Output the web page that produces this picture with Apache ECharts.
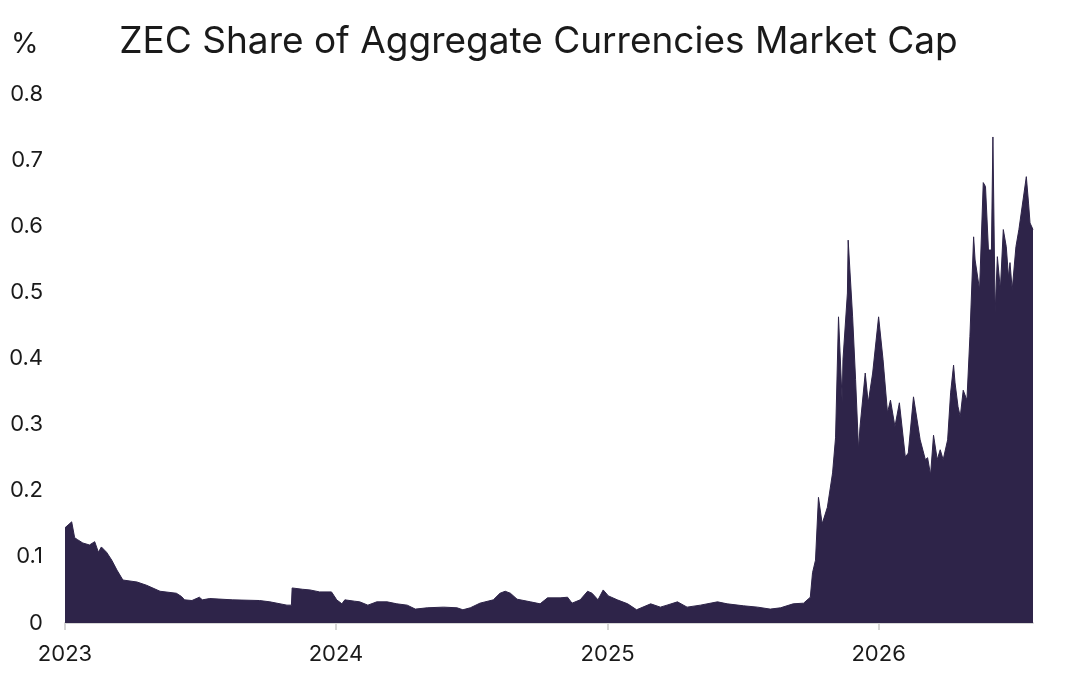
<!DOCTYPE html>
<html>
<head>
<meta charset="utf-8">
<script src="https://cdn.jsdelivr.net/npm/echarts@6/dist/echarts.min.js"></script>
<style>
  html, body { margin: 0; padding: 0; background: #fff; }
  #chart-container { width: 1077px; height: 675px; }
</style>
</head>
<body>
<div id="chart-container"></div>
<script>
// ZEC share of aggregate currencies market cap, %
const dates = [
    '2023-01-01', '2023-01-05', '2023-01-10', '2023-01-14', '2023-01-18', '2023-01-25', '2023-02-03', '2023-02-10',
    '2023-02-15', '2023-02-19', '2023-02-26', '2023-03-05', '2023-03-12', '2023-03-20', '2023-04-08', '2023-04-21',
    '2023-05-09', '2023-05-31', '2023-06-07', '2023-06-11', '2023-06-21', '2023-07-01', '2023-07-05', '2023-07-15',
    '2023-08-15', '2023-09-20', '2023-10-04', '2023-10-27', '2023-11-02', '2023-11-03', '2023-11-17', '2023-11-27',
    '2023-12-10', '2023-12-26', '2023-12-29', '2024-01-02', '2024-01-09', '2024-01-13', '2024-01-26', '2024-02-02',
    '2024-02-13', '2024-02-25', '2024-03-10', '2024-03-23', '2024-04-06', '2024-04-17', '2024-05-03', '2024-05-25',
    '2024-06-12', '2024-06-20', '2024-06-30', '2024-07-13', '2024-07-31', '2024-08-09', '2024-08-16', '2024-08-23',
    '2024-09-01', '2024-09-19', '2024-10-02', '2024-10-12', '2024-10-29', '2024-11-08', '2024-11-14', '2024-11-25',
    '2024-12-05', '2024-12-11', '2024-12-19', '2024-12-26', '2025-01-02', '2025-01-14', '2025-01-28', '2025-02-09',
    '2025-02-28', '2025-03-13', '2025-03-22', '2025-04-05', '2025-04-18', '2025-05-06', '2025-05-29', '2025-06-11',
    '2025-07-03', '2025-07-22', '2025-08-08', '2025-08-22', '2025-09-08', '2025-09-22', '2025-09-28', '2025-10-01',
    '2025-10-04', '2025-10-08', '2025-10-12', '2025-10-17', '2025-10-24', '2025-10-31', '2025-11-04', '2025-11-08',
    '2025-11-13', '2025-11-14', '2025-11-20', '2025-11-21', '2025-11-27', '2025-12-01', '2025-12-05', '2025-12-07',
    '2025-12-14', '2025-12-18', '2025-12-24', '2026-01-01', '2026-01-07', '2026-01-13', '2026-01-17', '2026-01-23',
    '2026-01-29', '2026-02-06', '2026-02-10', '2026-02-17', '2026-02-26', '2026-03-05', '2026-03-08', '2026-03-12',
    '2026-03-16', '2026-03-21', '2026-03-25', '2026-03-29', '2026-04-04', '2026-04-08', '2026-04-12', '2026-04-14',
    '2026-04-18', '2026-04-21', '2026-04-25', '2026-04-30', '2026-05-04', '2026-05-09', '2026-05-11', '2026-05-17',
    '2026-05-22', '2026-05-25', '2026-05-29', '2026-06-02', '2026-06-04', '2026-06-07', '2026-06-10', '2026-06-14',
    '2026-06-18', '2026-06-22', '2026-06-25', '2026-06-27', '2026-06-30', '2026-07-05', '2026-07-09', '2026-07-19',
    '2026-07-22', '2026-07-24', '2026-07-28'
];
const shares = [
    0.144, 0.148, 0.153, 0.129, 0.126, 0.121, 0.118, 0.123,
    0.107, 0.115, 0.107, 0.095, 0.080, 0.065, 0.062, 0.057,
    0.048, 0.045, 0.040, 0.035, 0.034, 0.039, 0.035, 0.037,
    0.035, 0.034, 0.032, 0.027, 0.027, 0.053, 0.051, 0.050,
    0.047, 0.047, 0.042, 0.035, 0.029, 0.035, 0.033, 0.032,
    0.027, 0.032, 0.032, 0.029, 0.027, 0.021, 0.023, 0.024,
    0.023, 0.020, 0.023, 0.030, 0.035, 0.045, 0.048, 0.045,
    0.036, 0.032, 0.029, 0.038, 0.038, 0.039, 0.030, 0.035,
    0.048, 0.045, 0.035, 0.050, 0.041, 0.035, 0.029, 0.020,
    0.029, 0.024, 0.027, 0.032, 0.024, 0.027, 0.032, 0.029,
    0.026, 0.024, 0.021, 0.023, 0.029, 0.030, 0.036, 0.039,
    0.076, 0.095, 0.190, 0.150, 0.175, 0.227, 0.280, 0.463,
    0.333, 0.398, 0.499, 0.579, 0.463, 0.368, 0.262, 0.297,
    0.378, 0.333, 0.378, 0.463, 0.398, 0.318, 0.337, 0.297,
    0.333, 0.251, 0.257, 0.342, 0.277, 0.247, 0.250, 0.224,
    0.284, 0.247, 0.262, 0.247, 0.277, 0.348, 0.390, 0.363,
    0.327, 0.312, 0.352, 0.337, 0.433, 0.584, 0.549, 0.504,
    0.666, 0.660, 0.564, 0.564, 0.735, 0.469, 0.554, 0.504,
    0.595, 0.569, 0.523, 0.545, 0.504, 0.569, 0.595, 0.675,
    0.635, 0.605, 0.595
];
const yearTicks = ['2023-01-01', '2024-01-01', '2025-01-01', '2026-01-01'];

const fontFamily = 'Inter, "Noto Sans", sans-serif';
const areaColor = '#2e2449';
const ts = d => Date.parse(d + 'T00:00:00Z');

const myChart = echarts.init(document.getElementById('chart-container'));

const option = {
    backgroundColor: '#ffffff',
    animation: false,
    title: {
        text: 'ZEC Share of Aggregate Currencies Market Cap',
        left: 'center',
        top: 18,
        textStyle: { fontFamily, fontSize: 37, fontWeight: 'normal', color: '#1a1a1a' },
    },
    graphic: [{
        type: 'text',
        left: 11,
        top: 31,
        style: { text: '%', font: '28px ' + fontFamily, fill: '#1a1a1a' },
    }],
    grid: { left: 65, right: 44, top: 94, bottom: 52 },
    xAxis: {
        type: 'value',
        min: ts('2023-01-01'),
        max: ts('2026-07-28'),
        axisLine: { show: true, onZero: false, lineStyle: { color: '#d6d6d6', width: 2 } },
        axisTick: {
            show: true,
            customValues: yearTicks.map(ts),
            length: 7,
            lineStyle: { color: '#d6d6d6', width: 2 },
        },
        axisLabel: {
            customValues: yearTicks.map(ts),
            formatter: value => String(new Date(value).getUTCFullYear()),
            margin: 20,
            fontFamily,
            fontSize: 22,
            color: '#1a1a1a',
        },
        splitLine: { show: false },
    },
    yAxis: {
        type: 'value',
        min: 0,
        max: 0.8,
        interval: 0.1,
        axisLine: { show: false },
        axisTick: { show: false },
        splitLine: { show: false },
        axisLabel: { margin: 22, fontFamily, fontSize: 22, color: '#1a1a1a' },
    },
    series: [{
        type: 'line',
        data: dates.map((d, i) => [ts(d), shares[i]]),
        showSymbol: false,
        sampling: false,
        lineStyle: { color: areaColor, width: 1 },
        areaStyle: { color: areaColor, opacity: 1 },
    }],
};
myChart.setOption(option);
</script>
</body>
</html>
